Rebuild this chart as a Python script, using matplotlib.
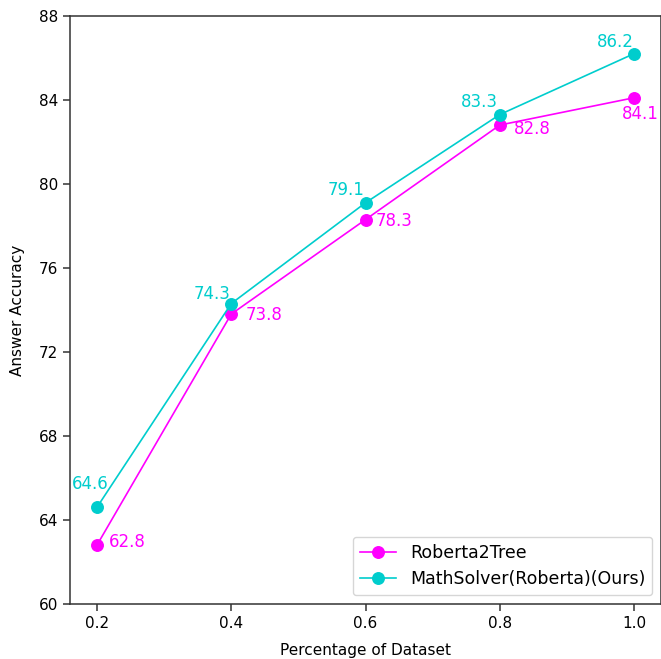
import matplotlib
matplotlib.use("Agg")
import matplotlib.pyplot as plt

x = [0.2, 0.4, 0.6, 0.8, 1.0]
roberta2tree = [62.8, 73.8, 78.3, 82.8, 84.1]
mathsolver = [64.6, 74.3, 79.1, 83.3, 86.2]
labels = ["Roberta2Tree", "MathSolver(Roberta)(Ours)"]
yticks = [60, 64, 68, 72, 76, 80, 84, 88]

c_mag = "#ff00ff"
c_cyan = "#00cdcd"

fig = plt.figure(figsize=(6.61, 6.59), dpi=100)
ax = fig.add_axes([0.106, 0.0835, 0.894, 0.8925])

ax.plot(x, roberta2tree, color=c_mag, marker="o", lw=1.2, ms=8.3, label=labels[0])
ax.plot(x, mathsolver, color=c_cyan, marker="o", lw=1.2, ms=8.3, label=labels[1])

mag_off = [(12, 3), (14, -1), (10, -1), (14, -4), (6, -16)]
mag_ha = ["left", "left", "left", "left", "center"]
for xi, yi, off, ha in zip(x, roberta2tree, mag_off, mag_ha):
    ax.annotate(f"{yi}", (xi, yi), xytext=off, textcoords="offset pixels",
                ha=ha, va="center", color=c_mag, fontsize=12)

cy_off = [(12, 23), (-1, 10), (-1, 13), (-2, 13), (0, 12)]
for xi, yi, off in zip(x, mathsolver, cy_off):
    ax.annotate(f"{yi}", (xi, yi), xytext=off, textcoords="offset pixels",
                ha="right", va="center", color=c_cyan, fontsize=12)

ax.set_ylim(60, 88)
ax.set_yticks(yticks)
ax.set_xticks(x)
ax.set_xticklabels([str(v) for v in x])
ax.set_xlim(0.16, 1.04)
ax.tick_params(labelsize=11, length=5, width=1.1, color="#333333")
for s in ax.spines.values():
    s.set_linewidth(1.1)
    s.set_color("#333333")
ax.set_xlabel("Percentage of Dataset", fontsize=11, labelpad=9)
ax.set_ylabel("Answer Accuracy", fontsize=11, labelpad=10)
ax.legend(loc="lower right", fontsize=12.5, handlelength=2.1)

fig.savefig("out.png", dpi=100)
